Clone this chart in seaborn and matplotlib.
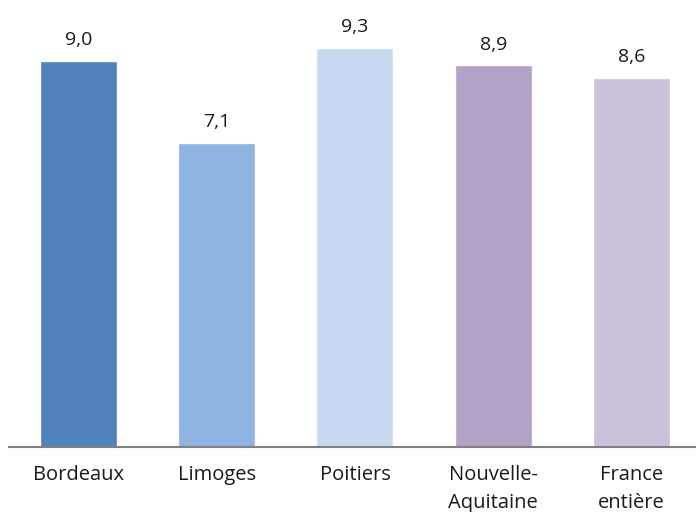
import matplotlib
matplotlib.use("Agg")
import matplotlib.pyplot as plt
import seaborn as sns
import pandas as pd

categories = ["Bordeaux", "Limoges", "Poitiers", "Nouvelle-\nAquitaine", "France\nentière"]
values = [9.0, 7.1, 9.3, 8.9, 8.6]
value_labels = ["9,0", "7,1", "9,3", "8,9", "8,6"]
colors = ["#4F81BD", "#8EB4E3", "#C6D9F1", "#B2A2C7", "#CCC1DA"]

sns.set_theme(style="white")
plt.rcParams["font.family"] = ["Open Sans", "DejaVu Sans"]

df = pd.DataFrame({"cat": categories, "val": values})

fig = plt.figure(figsize=(6.96, 5.12), dpi=100)
ax = fig.add_axes([9 / 696, 65.5 / 512, 687 / 696, 446.5 / 512])

sns.barplot(data=df, x="cat", y="val", hue="cat", palette=colors,
            order=categories, hue_order=categories, width=0.557,
            legend=False, ax=ax, saturation=1)

ax.set_xlim(-0.503, 4.467)
ax.set_ylim(0, 10.43)

for i, (v, lab) in enumerate(zip(values, value_labels)):
    ax.annotate(lab, (i, v), xytext=(0, 11.5), textcoords="offset points",
                ha="center", va="baseline", fontsize=14, color="#1a1a1a")

for s in ["top", "right", "left"]:
    ax.spines[s].set_visible(False)
ax.spines["bottom"].set_color("#808080")
ax.spines["bottom"].set_linewidth(1.5)
ax.set_yticks([])
ax.set_xlabel("")
ax.set_ylabel("")
ax.tick_params(axis="x", length=0, pad=13, labelsize=14.5, colors="#1a1a1a")
for t in ax.get_xticklabels():
    t.set_linespacing(1.55)

fig.savefig("out.png", dpi=100)
